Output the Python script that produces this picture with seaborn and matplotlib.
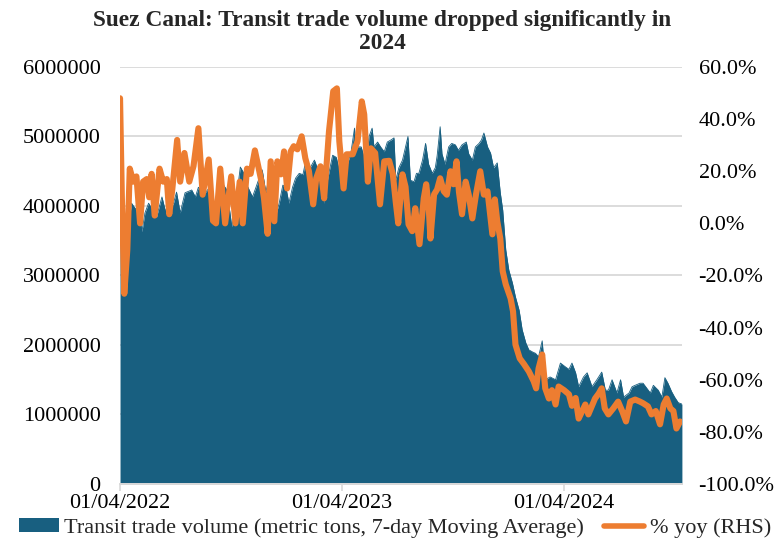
import pandas as pd
import numpy as np
import seaborn as sns
import matplotlib.pyplot as plt
import matplotlib.ticker as mticker
import matplotlib.dates as mdates
from matplotlib.patches import Patch
from matplotlib.lines import Line2D

# Data
vol_dates = [
    "2022-04-01", "2022-04-04", "2022-04-08", "2022-04-12", "2022-04-15", "2022-04-20",
    "2022-04-27", "2022-05-01", "2022-05-07", "2022-05-12", "2022-05-18", "2022-05-24",
    "2022-05-31", "2022-06-09", "2022-06-14", "2022-06-20", "2022-06-28", "2022-07-03",
    "2022-07-09", "2022-07-17", "2022-07-28", "2022-08-03", "2022-08-08", "2022-08-14",
    "2022-08-19", "2022-08-25", "2022-08-30", "2022-09-05", "2022-09-10", "2022-09-16",
    "2022-09-24", "2022-10-02", "2022-10-08", "2022-10-16", "2022-10-22", "2022-10-27",
    "2022-11-05", "2022-11-10", "2022-11-16", "2022-11-21", "2022-11-27", "2022-12-02",
    "2022-12-11", "2022-12-19", "2022-12-25", "2022-12-30", "2023-01-04", "2023-01-10",
    "2023-01-15", "2023-01-21", "2023-01-27", "2023-02-01", "2023-02-08", "2023-02-15",
    "2023-02-23", "2023-03-03", "2023-03-09", "2023-03-17", "2023-03-23", "2023-03-31",
    "2023-04-08", "2023-04-16", "2023-04-22", "2023-04-24", "2023-05-03", "2023-05-11",
    "2023-05-16", "2023-05-21", "2023-05-24", "2023-05-30", "2023-06-04", "2023-06-10",
    "2023-06-15", "2023-06-21", "2023-06-26", "2023-06-29", "2023-07-04", "2023-07-10",
    "2023-07-15", "2023-07-19", "2023-07-23", "2023-07-29", "2023-08-02", "2023-08-06",
    "2023-08-12", "2023-08-17", "2023-08-22", "2023-08-28", "2023-09-02", "2023-09-05",
    "2023-09-10", "2023-09-13", "2023-09-18", "2023-09-24", "2023-09-29", "2023-10-05",
    "2023-10-10", "2023-10-16", "2023-10-23", "2023-10-27", "2023-11-02", "2023-11-07",
    "2023-11-13", "2023-11-17", "2023-11-21", "2023-11-27", "2023-12-02", "2023-12-07",
    "2023-12-13", "2023-12-18", "2023-12-22", "2023-12-27", "2024-01-01", "2024-01-07",
    "2024-01-12", "2024-01-18", "2024-01-23", "2024-01-29", "2024-02-03", "2024-02-09",
    "2024-02-14", "2024-02-19", "2024-02-25", "2024-03-01", "2024-03-09", "2024-03-18",
    "2024-03-26", "2024-04-04", "2024-04-09", "2024-04-14", "2024-04-20", "2024-04-25",
    "2024-05-03", "2024-05-09", "2024-05-17", "2024-05-25", "2024-06-02", "2024-06-08",
    "2024-06-13", "2024-06-19", "2024-06-27", "2024-07-03", "2024-07-08", "2024-07-17",
    "2024-07-22", "2024-07-27", "2024-08-04", "2024-08-09", "2024-08-15", "2024-08-21",
    "2024-08-26", "2024-09-03", "2024-09-09", "2024-09-14", "2024-09-19", "2024-09-25",
    "2024-09-30", "2024-10-06", "2024-10-12",
]
# metric tons, millions
vol_millions = [
    3.84, 3.80, 2.90, 3.55, 3.75, 4.04,
    3.95, 4.04, 3.63, 3.90, 4.04, 3.95,
    3.84, 4.13, 3.95, 3.90, 4.04, 4.20,
    3.90, 4.19, 4.23, 4.13, 4.27, 4.20,
    4.19, 4.25, 4.09, 3.70, 4.10, 4.33,
    4.23, 3.70, 4.00, 4.56, 4.47, 4.30,
    4.13, 4.25, 4.40, 4.52, 4.20, 4.39,
    3.80, 4.04, 4.30, 4.27, 4.04, 4.27,
    4.40, 4.47, 4.45, 4.66, 4.55, 4.66,
    4.47, 4.04, 4.40, 4.73, 4.70, 4.40,
    4.55, 4.76, 5.12, 4.85, 4.85, 4.60,
    5.00, 5.12, 4.85, 4.92, 4.85, 4.78,
    4.92, 4.95, 4.98, 4.37, 4.55, 4.66,
    4.85, 5.00, 4.37, 4.35, 4.47, 4.47,
    4.66, 4.90, 4.60, 4.47, 4.55, 4.72,
    5.14, 4.75, 4.60, 4.85, 4.90, 4.88,
    4.80, 4.88, 4.92, 4.75, 4.66, 4.85,
    4.90, 4.95, 5.05, 4.85, 4.76, 4.55,
    4.62, 4.19, 3.94, 3.37, 3.08, 2.89,
    2.69, 2.50, 2.22, 2.03, 1.93, 1.90,
    1.88, 1.83, 2.06, 1.50, 1.54, 1.50,
    1.74, 1.68, 1.65, 1.74, 1.60, 1.40,
    1.54, 1.60, 1.40, 1.50, 1.61, 1.35,
    1.35, 1.50, 1.31, 1.50, 1.25, 1.31,
    1.40, 1.42, 1.45, 1.45, 1.38, 1.31,
    1.42, 1.35, 1.25, 1.53, 1.45, 1.33,
    1.25, 1.17, 1.15,
]

yoy_dates = [
    "2022-04-01", "2022-04-04", "2022-04-08", "2022-04-13", "2022-04-17", "2022-04-23",
    "2022-04-28", "2022-05-04", "2022-05-09", "2022-05-15", "2022-05-19", "2022-05-23",
    "2022-05-28", "2022-06-05", "2022-06-11", "2022-06-17", "2022-06-21", "2022-06-26",
    "2022-07-04", "2022-07-09", "2022-07-16", "2022-07-24", "2022-07-31", "2022-08-08",
    "2022-08-15", "2022-08-25", "2022-09-01", "2022-09-06", "2022-09-13", "2022-09-21",
    "2022-10-01", "2022-10-08", "2022-10-15", "2022-10-20", "2022-10-27", "2022-11-02",
    "2022-11-09", "2022-11-19", "2022-11-24", "2022-11-30", "2022-12-05", "2022-12-11",
    "2022-12-16", "2022-12-22", "2022-12-27", "2023-01-01", "2023-01-07", "2023-01-12",
    "2023-01-18", "2023-01-25", "2023-01-31", "2023-02-06", "2023-02-13", "2023-02-18",
    "2023-02-25", "2023-03-03", "2023-03-11", "2023-03-18", "2023-03-24", "2023-03-28",
    "2023-04-04", "2023-04-09", "2023-04-19", "2023-04-27", "2023-05-04", "2023-05-08",
    "2023-05-14", "2023-05-19", "2023-05-26", "2023-06-03", "2023-06-10", "2023-06-18",
    "2023-06-24", "2023-06-29", "2023-07-03", "2023-07-10", "2023-07-15", "2023-07-20",
    "2023-07-26", "2023-07-31", "2023-08-07", "2023-08-14", "2023-08-18", "2023-08-22",
    "2023-08-25", "2023-08-31", "2023-09-05", "2023-09-10", "2023-09-16", "2023-09-21",
    "2023-09-27", "2023-10-02", "2023-10-07", "2023-10-11", "2023-10-16", "2023-10-22",
    "2023-10-27", "2023-11-02", "2023-11-08", "2023-11-15", "2023-11-21", "2023-11-27",
    "2023-12-05", "2023-12-09", "2023-12-13", "2023-12-18", "2023-12-22", "2023-12-27",
    "2024-01-04", "2024-01-08", "2024-01-12", "2024-01-19", "2024-01-26", "2024-02-03",
    "2024-02-11", "2024-02-15", "2024-02-19", "2024-02-25", "2024-03-01", "2024-03-07",
    "2024-03-12", "2024-03-18", "2024-03-23", "2024-04-01", "2024-04-09", "2024-04-14",
    "2024-04-20", "2024-04-25", "2024-05-01", "2024-05-06", "2024-05-11", "2024-05-17",
    "2024-05-22", "2024-05-28", "2024-06-02", "2024-06-07", "2024-06-13", "2024-06-21",
    "2024-06-29", "2024-07-06", "2024-07-12", "2024-07-19", "2024-07-27", "2024-08-04",
    "2024-08-09", "2024-08-17", "2024-08-23", "2024-08-30", "2024-09-06", "2024-09-12",
    "2024-09-17", "2024-09-23", "2024-09-28", "2024-10-03", "2024-10-09",
]
yoy_pct = [
    48.0, 10.0, -27.0, -10.0, 21.0, 16.0,
    18.0, 0.0, 16.0, 17.0, 10.0, 19.0,
    3.0, 21.0, 16.0, 17.0, 3.5, 13.0,
    32.0, 16.0, 27.0, 16.0, 22.0, 36.5,
    11.0, 24.5, 1.0, 0.0, 21.0, 0.0,
    18.0, 0.0, 16.0, 0.0, 21.0, 19.0,
    28.0, 17.0, 9.6, -4.0, 23.8, 0.8,
    23.8, 18.8, 27.6, 13.4, 27.6, 29.6,
    28.4, 33.4, 25.0, 20.0, 7.3, 17.3,
    21.9, 9.6, 35.3, 50.7, 51.8, 31.5,
    13.4, 26.5, 26.5, 31.5, 46.8, 41.8,
    16.0, 28.8, 27.0, 7.3, 23.8, 24.0,
    19.0, 8.0, 0.0, 18.8, 14.0, -0.4,
    -3.0, 5.8, -8.0, 9.6, 15.0, 7.0,
    -5.8, 11.1, 13.0, 17.3, 12.3, 11.0,
    20.0, 15.0, 23.8, 12.0, 3.5, 16.0,
    11.0, 1.9, 11.1, 20.0, 11.0, 12.3,
    -4.2, 9.2, 0.8, -5.8, -18.4, -23.4,
    -28.8, -33.8, -46.5, -51.8, -54.0, -56.8,
    -60.6, -63.3, -55.7, -50.3, -63.3, -67.2,
    -64.0, -69.5, -62.6, -64.0, -65.6, -70.0,
    -67.0, -74.9, -72.0, -69.5, -73.3, -70.0,
    -67.2, -65.3, -63.3, -71.0, -73.3, -71.0,
    -68.4, -72.2, -76.0, -68.4, -67.6, -68.4,
    -69.0, -70.2, -73.3, -72.0, -77.1, -69.5,
    -67.2, -71.0, -72.0, -78.7, -76.0,
]

year_ticks = ["2022-04-01", "2023-04-01", "2024-04-01"]

AREA_COLOR = "#185F80"
LINE_COLOR = "#ED7D31"
FONT = ["Liberation Serif", "DejaVu Serif"]

sns.set_theme(style="white")
plt.rcParams["font.family"] = FONT
plt.rcParams["font.size"] = 16


def main():
    vol = pd.DataFrame({"date": pd.to_datetime(vol_dates),
                        "volume": np.array(vol_millions) * 1e6})
    yoy = pd.DataFrame({"date": pd.to_datetime(yoy_dates), "yoy": yoy_pct})

    fig, ax = plt.subplots(figsize=(7.82, 5.49), dpi=100)
    fig.subplots_adjust(left=0.1535, right=0.872, bottom=0.1184, top=0.878)

    # Area (LHS)
    ax.fill_between(vol["date"], vol["volume"], 0, color=AREA_COLOR, linewidth=0, zorder=2)
    sns.lineplot(data=vol, x="date", y="volume", ax=ax, color=AREA_COLOR,
                 linewidth=0.6, zorder=2)
    ax.set_ylim(0, 6e6)
    ax.set_yticks(np.arange(0, 6e6 + 1, 1e6))
    ax.yaxis.set_major_formatter(mticker.FuncFormatter(lambda v, p: f"{int(v)}"))
    ax.grid(axis="y", color="#D9D9D9", linewidth=1.3, zorder=0)
    ax.set_axisbelow(True)

    ax.set_xlim(pd.Timestamp("2022-04-01"), pd.Timestamp("2024-10-12"))
    ax.set_xticks(pd.to_datetime(year_ticks))
    ax.xaxis.set_major_formatter(mdates.DateFormatter("%d/%m/%Y"))
    ax.set_xlabel("")
    ax.set_ylabel("")

    # % yoy (RHS)
    ax2 = ax.twinx()
    sns.lineplot(data=yoy, x="date", y="yoy", ax=ax2, color=LINE_COLOR,
                 linewidth=4.4, zorder=3, solid_joinstyle="round",
                 solid_capstyle="round")
    ax2.set_ylim(-100, 60)
    ax2.set_yticks(np.arange(-100, 61, 20))
    ax2.yaxis.set_major_formatter(mticker.FuncFormatter(lambda v, p: f"{v:.1f}%"))
    ax2.set_ylabel("")
    ax2.grid(False)

    for a in (ax, ax2):
        for side in ("top", "left", "right"):
            a.spines[side].set_visible(False)
        a.spines["bottom"].set_color("#D9D9D9")
        a.spines["bottom"].set_linewidth(1.3)

    ax.tick_params(axis="y", length=0, pad=14, labelsize=16, labelcolor="black")
    ax.tick_params(axis="x", length=5, width=1.2, color="#D9D9D9", pad=2.5,
                   labelsize=16, labelcolor="black", direction="out", bottom=True)
    ax2.tick_params(axis="y", length=0, pad=12, labelsize=16, labelcolor="black")

    fig.text(0.489, 0.942, "Suez Canal: Transit trade volume dropped significantly in\n2024",
             ha="center", va="center", fontsize=16.8, fontweight="bold",
             linespacing=1.12, family=FONT)

    handles = [
        Patch(facecolor=AREA_COLOR, edgecolor="none"),
        Line2D([0], [0], color=LINE_COLOR, linewidth=4),
    ]
    labels = ["Transit trade volume (metric tons, 7-day Moving Average)", "% yoy (RHS)"]
    fig.legend(handles, labels, loc="center", bbox_to_anchor=(0.505, 0.038), ncol=2,
               frameon=False, fontsize=16, handlelength=1.8, handleheight=0.6,
               handletextpad=0.25, columnspacing=0.9, borderaxespad=0)

    fig.savefig("out.png", dpi=100)
    plt.close(fig)


if __name__ == "__main__":
    main()
